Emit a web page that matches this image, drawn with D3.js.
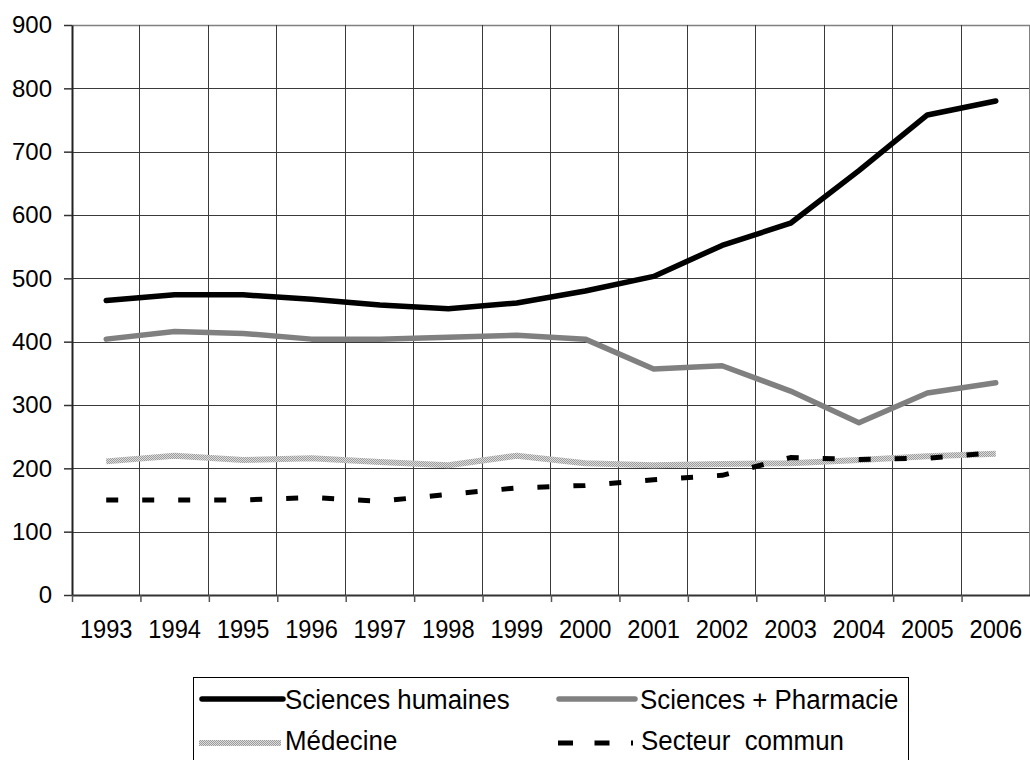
<!DOCTYPE html>
<html>
<head>
<meta charset="utf-8">
<script src="https://cdn.jsdelivr.net/npm/d3@7"></script>
<style>
  html, body { margin: 0; padding: 0; background: #fff; }
  svg { display: block; }
  text { font-family: "Liberation Sans", Arial, sans-serif; fill: #000; }
</style>
</head>
<body>
<svg id="chart" width="1030" height="760"></svg>
<script>
const years = ["1993","1994","1995","1996","1997","1998","1999","2000","2001","2002","2003","2004","2005","2006"];
const sciencesHumaines = [465, 474, 474, 467, 458, 452, 461, 480, 503, 552, 587, 670, 758, 780];
const sciencesPharmacie = [404, 416, 413, 404, 404, 407, 410, 404, 357, 362, 322, 272, 319, 335];
const medecine = [211, 220, 213, 216, 210, 205, 220, 208, 205, 207, 208, 213, 219, 223];
const secteurCommun = [150, 150, 150, 154, 148, 159, 169, 173, 182, 189, 217, 214, 216, 225];
const yTicks = [0, 100, 200, 300, 400, 500, 600, 700, 800, 900];
const legendLabels = ["Sciences humaines", "Sciences + Pharmacie", "Médecine", "Secteur  commun"];

(function () {
const svg = d3.select("#chart");
const mLeft = 72, mRight = 1030, mTop = 25, mBottom = 595;

const defs = svg.append("defs");
const pat = defs.append("pattern").attr("id", "medpat")
  .attr("patternUnits", "userSpaceOnUse").attr("width", 2).attr("height", 2);
pat.append("rect").attr("width", 2).attr("height", 2).attr("fill", "#dcdcdc");
pat.append("rect").attr("width", 1).attr("height", 1).attr("fill", "#9c9c9c");
pat.append("rect").attr("x", 1).attr("y", 1).attr("width", 1).attr("height", 1).attr("fill", "#9c9c9c");

const x = d3.scaleBand().domain(years).range([mLeft, mRight]).padding(0);
const xi = d3.scaleLinear().domain([0, years.length]).range([mLeft, mRight]);
const y = d3.scaleLinear().domain([0, 900]).range([mBottom, mTop]);
const cx = d => x(d) + x.bandwidth() / 2;

// grid
const grid = svg.append("g");
grid.selectAll("line.h").data(yTicks.filter(t => t > 0)).join("line")
  .attr("x1", mLeft).attr("x2", mRight)
  .attr("y1", d => Math.round(y(d)) + 0.5).attr("y2", d => Math.round(y(d)) + 0.5)
  .attr("stroke", d => d === 900 ? "#808080" : "#3a3a3a").attr("stroke-width", d => d === 900 ? 1.5 : 1);
grid.selectAll("line.v").data(d3.range(1, years.length + 1)).join("line")
  .attr("y1", mTop).attr("y2", mBottom)
  .attr("x1", d => Math.round(xi(d)) - 0.5).attr("x2", d => Math.round(xi(d)) - 0.5)
  .attr("stroke", d => d === years.length ? "#808080" : "#3a3a3a").attr("stroke-width", 1);

// y axis
const yAxis = svg.append("g").attr("transform", `translate(${mLeft},0)`)
  .call(d3.axisLeft(y).tickValues(yTicks).tickSize(8).tickPadding(12).tickSizeOuter(0));
yAxis.select(".domain").attr("stroke", "#222").attr("stroke-width", 2);
yAxis.selectAll(".tick line").attr("stroke", "#333").attr("stroke-width", 1.5);
yAxis.selectAll("text").style("font-size", "24px").style("font-family", "'Liberation Sans', Arial, sans-serif").attr("fill", "#000");

// x axis ticks at boundaries
const xTicksAxis = svg.append("g").attr("transform", `translate(0,${mBottom})`)
  .call(d3.axisBottom(xi).tickValues(d3.range(0, years.length)).tickSize(7).tickFormat("").tickSizeOuter(0));
xTicksAxis.select(".domain").attr("stroke", "#333").attr("stroke-width", 2);
xTicksAxis.selectAll(".tick line").attr("stroke", "#555").attr("stroke-width", 1.5);

// x labels
const xLab = svg.append("g").attr("transform", `translate(0,${mBottom})`)
  .call(d3.axisBottom(x).tickSize(0).tickPadding(25));
xLab.select(".domain").remove();
xLab.selectAll("text").style("font-size", "26px").style("font-family", "'Liberation Sans', Arial, sans-serif")
  .attr("fill", "#000").attr("transform", "scale(0.91,1)");

// lines
const line = d3.line().x((d, i) => cx(years[i])).y(d => y(d));
const series = [
  { data: medecine, stroke: "url(#medpat)", width: 6, dash: null, cap: "butt" },
  { data: secteurCommun, stroke: "#000", width: 5, dash: "12,24", cap: "butt" },
  { data: sciencesPharmacie, stroke: "#808080", width: 5.5, dash: null, cap: "round" },
  { data: sciencesHumaines, stroke: "#000", width: 5.5, dash: null, cap: "round" }
];
svg.append("g").selectAll("path").data(series).join("path")
  .attr("d", s => line(s.data))
  .attr("fill", "none")
  .attr("stroke", s => s.stroke)
  .attr("stroke-width", s => s.width)
  .attr("stroke-dasharray", s => s.dash)
  .attr("stroke-linecap", s => s.cap)
  .attr("stroke-linejoin", "round");

// legend
const lg = svg.append("g");
lg.append("rect").attr("x", 193.5).attr("y", 677.5).attr("width", 715).attr("height", 100)
  .attr("fill", "#fff").attr("stroke", "#000").attr("stroke-width", 1);
const legendItems = [
  { label: legendLabels[0], x1: 202, x2: 283, y: 699, tx: 285, ty: 708.5, stroke: "#000", dash: null, width: 5.5, cap: "round" },
  { label: legendLabels[1], x1: 559, x2: 635, y: 699, tx: 640, ty: 708.5, stroke: "#808080", dash: null, width: 5.5, cap: "round" },
  { label: legendLabels[2], x1: 199, x2: 281, y: 743, tx: 285, ty: 749.5, stroke: "url(#medpat)", dash: null, width: 6, cap: "butt" },
  { label: legendLabels[3], x1: 558, x2: 633, y: 743, tx: 641, ty: 749.5, stroke: "#000", dash: "15,21.5", width: 5, cap: "butt" }
];
const li = lg.selectAll("g.item").data(legendItems).join("g");
li.append("line")
  .attr("x1", d => d.x1).attr("x2", d => d.x2)
  .attr("y1", d => d.y).attr("y2", d => d.y)
  .attr("stroke", d => d.stroke).attr("stroke-width", d => d.width)
  .attr("stroke-dasharray", d => d.dash).attr("stroke-linecap", d => d.cap);
li.append("text")
  .attr("transform", d => `translate(${d.tx},${d.ty}) scale(0.925,1)`)
  .style("font-size", "28px")
  .style("white-space", "pre")
  .text(d => d.label);
})();
</script>
</body>
</html>
